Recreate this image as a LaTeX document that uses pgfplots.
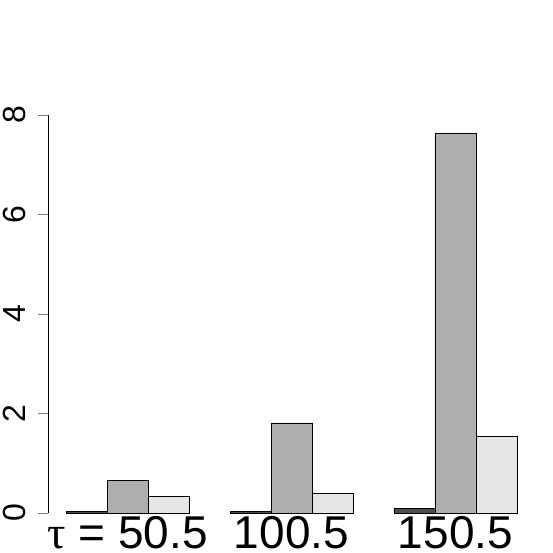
\documentclass[border=0pt]{standalone}
\usepackage{fontspec}
\setmainfont{Liberation Sans}
\newfontfamily\greekfont{Liberation Serif}
\usepackage{pgfplots}
\pgfplotsset{compat=1.18}
\definecolor{barA}{HTML}{4D4D4D}
\definecolor{barB}{HTML}{AEAEAE}
\definecolor{barC}{HTML}{E6E6E6}

\begin{document}
\begin{tikzpicture}
\path[use as bounding box] (0,0) rectangle (553pt,552pt);
\begin{axis}[
    at={(48pt,39pt)}, anchor=south west,
    scale only axis,
    width=487pt, height=398pt,
    xmin=0.56, xmax=12.44,
    ymin=0, ymax=8,
    axis lines*=left,
    x axis line style={draw=none},
    xtick={2.5,6.5,10.5},
    xticklabels={{{\greekfont τ} = 50.5},{100.5},{150.5}},
    xtick style={draw=none},
    xticklabel style={font=\fontsize{46}{46}\selectfont, anchor=north, inner sep=0pt, yshift=7pt},
    ytick={0,2,4,6,8},
    /pgf/number format/assume math mode=true,
    tick align=outside,
    major tick length=10pt,
    ytick style={line width=0.8pt},
    y axis line style={line width=0.8pt},
    yticklabel style={xshift=-12pt, rotate=90, anchor=south, inner sep=0pt, font=\fontsize{32}{32}\selectfont},
    ybar, bar width=1, bar shift=0pt,
    clip=false,
]
\addplot[fill=barA, draw=black, line width=0.8pt] coordinates {(1.5,0.04) (5.5,0.04) (9.5,0.10)};
\addplot[fill=barB, draw=black, line width=0.8pt] coordinates {(2.5,0.66) (6.5,1.81) (10.5,7.63)};
\addplot[fill=barC, draw=black, line width=0.8pt] coordinates {(3.5,0.34) (7.5,0.40) (11.5,1.53)};
\end{axis}
\end{tikzpicture}
\end{document}
